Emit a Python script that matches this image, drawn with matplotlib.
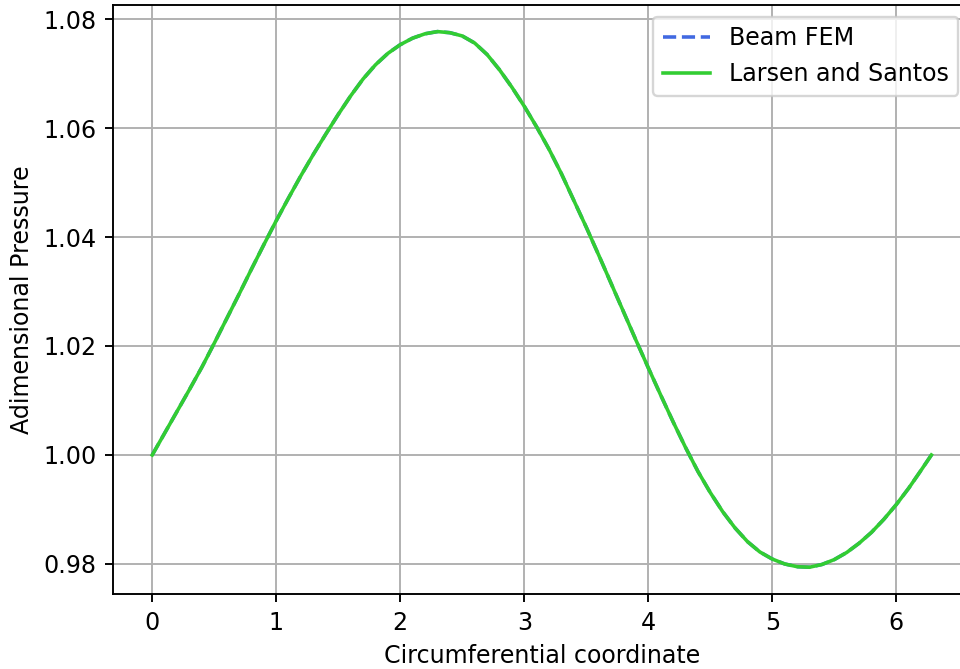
import matplotlib
matplotlib.use("Agg")
import matplotlib.pyplot as plt

# circumferential coordinate (rad) and adimensional pressure along the bearing
theta = [0.0, 0.1, 0.2, 0.3, 0.4, 0.5, 0.6, 0.7, 0.8, 0.9,
         1.0, 1.1, 1.2, 1.3, 1.4, 1.5, 1.6, 1.7, 1.8, 1.9,
         2.0, 2.1, 2.2, 2.3, 2.4, 2.5, 2.6, 2.7, 2.8, 2.9,
         3.0, 3.1, 3.2, 3.3, 3.4, 3.5, 3.6, 3.7, 3.8, 3.9,
         4.0, 4.1, 4.2, 4.3, 4.4, 4.5, 4.6, 4.7, 4.8, 4.9,
         5.0, 5.1, 5.2, 5.3, 5.4, 5.5, 5.6, 5.7, 5.8, 5.9,
         6.0, 6.1, 6.2, 6.2832]
p_beam_fem = [1.0000, 1.0040, 1.0080, 1.0120, 1.0161, 1.0205, 1.0250, 1.0295, 1.0341, 1.0386,
              1.0430, 1.0472, 1.0513, 1.0552, 1.0589, 1.0625, 1.0659, 1.0690, 1.0716, 1.0737,
              1.0753, 1.0765, 1.0773, 1.0777, 1.0775, 1.0769, 1.0756, 1.0735, 1.0707, 1.0675,
              1.0640, 1.0602, 1.0561, 1.0516, 1.0467, 1.0418, 1.0367, 1.0315, 1.0263, 1.0211,
              1.0160, 1.0110, 1.0061, 1.0014, 0.9970, 0.9931, 0.9896, 0.9866, 0.9841, 0.9822,
              0.9809, 0.9800, 0.9795, 0.9794, 0.9799, 0.9808, 0.9821, 0.9838, 0.9858, 0.9882,
              0.9909, 0.9939, 0.9972, 1.0000]
# analytical solution lies on top of the FEM result
p_larsen_santos = list(p_beam_fem)

fig = plt.figure(figsize=(960 / 171, 669 / 171), dpi=171)
ax = fig.add_axes([0.118, 0.1121, 0.8928, 0.8807])

ax.plot(theta, p_beam_fem, '--', color='royalblue', label='Beam FEM')
ax.plot(theta, p_larsen_santos, '-', color='limegreen', label='Larsen and Santos')

ax.set_xlabel('Circumferential coordinate')
ax.set_ylabel('Adimensional Pressure')
ax.grid(True)
ax.legend(loc='upper right')

fig.savefig('out.png', dpi=171)
